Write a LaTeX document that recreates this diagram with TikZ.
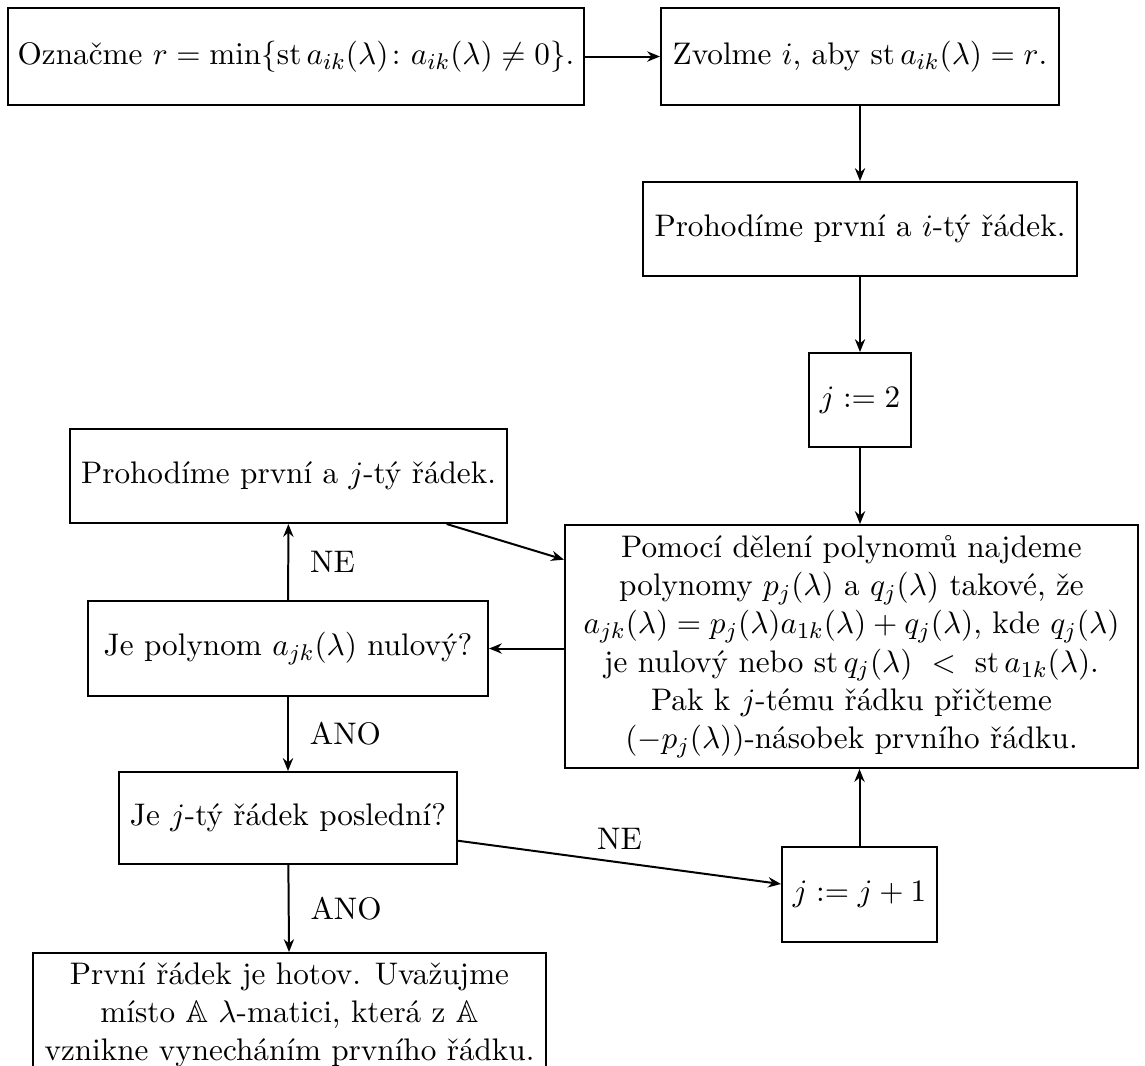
\documentclass[tikz,border=0pt]{standalone}
\usepackage{amsmath,amssymb}
\usetikzlibrary{arrows.meta}
\DeclareMathOperator{\stdeg}{st}
\begin{document}
\begin{tikzpicture}[x=0.351pt,y=-0.351pt,
  every node/.style={font=\fontsize{10.95}{13.4}\selectfont},
  box/.style={draw, line width=0.7pt, inner sep=0pt, align=center},
  sz/.style 2 args={minimum width=#1*0.351pt, minimum height=#2*0.351pt},
  arr/.style={-{Stealth[length=4.5pt,width=3.6pt]}, line width=0.7pt},
  lab/.style={inner sep=0pt}]
\path[use as bounding box, clip] (0,0) rectangle (1145,1065);
% right column
\node[box, sz={576}{97}] (b1) at (296,56.5) {Označme $r=\min\{\stdeg a_{ik}(\lambda)\colon a_{ik}(\lambda)\neq 0\}$.};
\node[box, sz={398}{97}] (b2) at (860,56.5) {Zvolme $i$, aby $\stdeg a_{ik}(\lambda)=r$.};
\node[box, sz={434}{94}] (b3) at (860,229) {Prohodíme první a $i$-tý řádek.};
\node[box, sz={102}{94}] (b4) at (860,400) {$j:=2$};
\node[box, sz={573}{243}] (b5) at (851.5,646.5) {Pomocí dělení polynomů najdeme\\
polynomy $p_j(\lambda)$ a $q_j(\lambda)$ takové, že\\
$a_{jk}(\lambda)=p_j(\lambda)a_{1k}(\lambda)+q_j(\lambda)$, kde $q_j(\lambda)$\\
je nulový nebo $\stdeg q_j(\lambda)\ <\ \stdeg a_{1k}(\lambda)$.\\
Pak k $j$-tému řádku přičteme\\
$(-p_j(\lambda))$-násobek prvního řádku.};
\node[box, sz={155}{95}] (b6) at (859.5,894.5) {$j:=j+1$};
% left column
\node[box, sz={437}{94}] (l1) at (288.5,476) {Prohodíme první a $j$-tý řádek.};
\node[box, sz={400}{95}] (l2) at (288,648.5) {Je polynom $a_{jk}(\lambda)$ nulový?};
\node[box, sz={338}{92}] (l3) at (288,818) {Je $j$-tý řádek poslední?};
\node[box, sz={513}{10}, inner ysep=0.3333em, anchor=north] (l4) at (289.5,952) {První řádek je hotov. Uvažujme\\
místo $\mathbb{A}$ $\lambda$-matici, která z $\mathbb{A}$\\
vznikne vynecháním prvního řádku.};
% connectors
\draw[arr] (b1) -- (b2);
\draw[arr] (b2) -- (b3);
\draw[arr] (b3) -- (b4);
\draw[arr] (b4.south) -- (b4.south |- b5.north);
\draw[arr] (b6.north) -- (b6.north |- b5.south);
\draw[arr] (b5.west |- l2.east) -- (l2.east);
\draw[arr] (l2) -- (l1) node[midway, right, xshift=4pt] {NE};
\draw[arr] (l1) -- (b5);
\draw[arr] (l2) -- (l3) node[midway, right, xshift=4pt] {ANO};
\draw[arr] (l3) -- (l4) node[midway, right, xshift=4pt] {ANO};
\draw[arr] (l3) -- (b6) node[midway, above, yshift=1pt] {NE};
\end{tikzpicture}
\end{document}
